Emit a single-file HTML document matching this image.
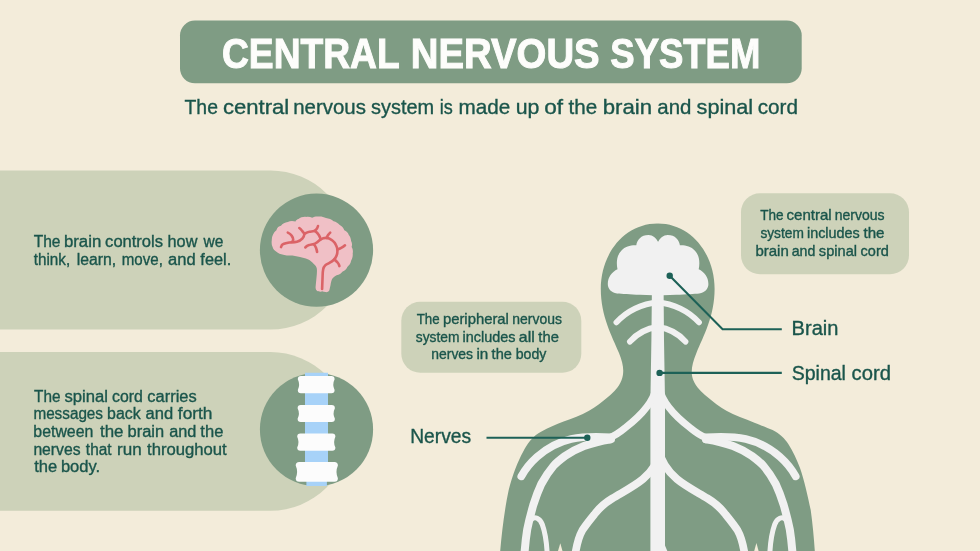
<!DOCTYPE html>
<html><head><meta charset="utf-8">
<style>
html,body{margin:0;padding:0;background:#F3ECDA;}
body{width:980px;height:551px;overflow:hidden;}
svg{display:block;font-family:"Liberation Sans",sans-serif;}
.d{fill:#1A554B;stroke:#1A554B;stroke-width:.35px;}
svg{will-change:transform;}
</style></head><body>
<svg width="980" height="551" viewBox="0 0 980 551">
<rect width="980" height="551" fill="#F3ECDA"/>
<!-- title -->
<rect x="180" y="20.6" width="621.7" height="62.7" rx="15" fill="#7F9C84"/>
<!-- left panels -->
<path d="M0 170.4H270.5a79.6 79.6 0 0 1 0 159.2H0Z" fill="#CDD2B9"/>
<path d="M0 352.1H270.5a79.3 79.3 0 0 1 0 158.6H0Z" fill="#CDD2B9"/>
<circle cx="316.5" cy="250.2" r="56.6" fill="#7F9C84"/>
<circle cx="316.5" cy="429.5" r="56.6" fill="#7F9C84"/>
<!-- TA -->
<text class="t" x="222.01" y="68.0" font-size="41.6" font-weight="bold" fill="#FDFDFB" stroke="#FDFDFB" stroke-width="1" textLength="177.70" lengthAdjust="spacingAndGlyphs">CENTRAL</text>
<text class="t" x="410.81" y="68.0" font-size="41.6" font-weight="bold" fill="#FDFDFB" stroke="#FDFDFB" stroke-width="1" textLength="188.82" lengthAdjust="spacingAndGlyphs">NERVOUS</text>
<text class="t" x="610.31" y="68.0" font-size="41.6" font-weight="bold" fill="#FDFDFB" stroke="#FDFDFB" stroke-width="1" textLength="150.04" lengthAdjust="spacingAndGlyphs">SYSTEM</text>
<text class="t d" x="184.51" y="113.8" font-size="20.6" textLength="33.42" lengthAdjust="spacingAndGlyphs">The</text>
<text class="t d" x="222.92" y="113.8" font-size="20.6" textLength="66.36" lengthAdjust="spacingAndGlyphs">central</text>
<text class="t d" x="293.17" y="113.8" font-size="20.6" textLength="72.70" lengthAdjust="spacingAndGlyphs">nervous</text>
<text class="t d" x="371.10" y="113.8" font-size="20.6" textLength="63.13" lengthAdjust="spacingAndGlyphs">system</text>
<text class="t d" x="439.63" y="113.8" font-size="20.6" textLength="13.05" lengthAdjust="spacingAndGlyphs">is</text>
<text class="t d" x="458.56" y="113.8" font-size="20.6" textLength="51.71" lengthAdjust="spacingAndGlyphs">made</text>
<text class="t d" x="515.72" y="113.8" font-size="20.6" textLength="23.69" lengthAdjust="spacingAndGlyphs">up</text>
<text class="t d" x="544.29" y="113.8" font-size="20.6" textLength="18.88" lengthAdjust="spacingAndGlyphs">of</text>
<text class="t d" x="568.49" y="113.8" font-size="20.6" textLength="28.64" lengthAdjust="spacingAndGlyphs">the</text>
<text class="t d" x="602.76" y="113.8" font-size="20.6" textLength="49.36" lengthAdjust="spacingAndGlyphs">brain</text>
<text class="t d" x="657.28" y="113.8" font-size="20.6" textLength="34.12" lengthAdjust="spacingAndGlyphs">and</text>
<text class="t d" x="696.55" y="113.8" font-size="20.6" textLength="56.62" lengthAdjust="spacingAndGlyphs">spinal</text>
<text class="t d" x="757.67" y="113.8" font-size="20.6" textLength="40.28" lengthAdjust="spacingAndGlyphs">cord</text>
<text class="t d" x="33.69" y="247.4" font-size="16.0" textLength="26.86" lengthAdjust="spacingAndGlyphs">The</text>
<text class="t d" x="63.91" y="247.4" font-size="16.0" textLength="37.36" lengthAdjust="spacingAndGlyphs">brain</text>
<text class="t d" x="105.14" y="247.4" font-size="16.0" textLength="57.87" lengthAdjust="spacingAndGlyphs">controls</text>
<text class="t d" x="167.56" y="247.4" font-size="16.0" textLength="29.83" lengthAdjust="spacingAndGlyphs">how</text>
<text class="t d" x="203.50" y="247.4" font-size="16.0" textLength="19.85" lengthAdjust="spacingAndGlyphs">we</text>
<text class="t d" x="33.77" y="265.1" font-size="16.0" textLength="36.40" lengthAdjust="spacingAndGlyphs">think,</text>
<text class="t d" x="76.78" y="265.1" font-size="16.0" textLength="39.39" lengthAdjust="spacingAndGlyphs">learn,</text>
<text class="t d" x="121.72" y="265.1" font-size="16.0" textLength="41.11" lengthAdjust="spacingAndGlyphs">move,</text>
<text class="t d" x="168.04" y="265.1" font-size="16.0" textLength="27.59" lengthAdjust="spacingAndGlyphs">and</text>
<text class="t d" x="200.35" y="265.1" font-size="16.0" textLength="30.90" lengthAdjust="spacingAndGlyphs">feel.</text>
<text class="t d" x="34.09" y="401.5" font-size="16.0" textLength="26.45" lengthAdjust="spacingAndGlyphs">The</text>
<text class="t d" x="64.50" y="401.5" font-size="16.0" textLength="43.53" lengthAdjust="spacingAndGlyphs">spinal</text>
<text class="t d" x="111.97" y="401.5" font-size="16.0" textLength="30.77" lengthAdjust="spacingAndGlyphs">cord</text>
<text class="t d" x="147.34" y="401.5" font-size="16.0" textLength="49.34" lengthAdjust="spacingAndGlyphs">carries</text>
<text class="t d" x="33.41" y="419.2" font-size="16.0" textLength="69.59" lengthAdjust="spacingAndGlyphs">messages</text>
<text class="t d" x="107.07" y="419.2" font-size="16.0" textLength="33.57" lengthAdjust="spacingAndGlyphs">back</text>
<text class="t d" x="145.54" y="419.2" font-size="16.0" textLength="27.59" lengthAdjust="spacingAndGlyphs">and</text>
<text class="t d" x="177.84" y="419.2" font-size="16.0" textLength="34.60" lengthAdjust="spacingAndGlyphs">forth</text>
<text class="t d" x="33.37" y="436.9" font-size="16.0" textLength="59.98" lengthAdjust="spacingAndGlyphs">between</text>
<text class="t d" x="99.95" y="436.9" font-size="16.0" textLength="23.52" lengthAdjust="spacingAndGlyphs">the</text>
<text class="t d" x="127.63" y="436.9" font-size="16.0" textLength="36.51" lengthAdjust="spacingAndGlyphs">brain</text>
<text class="t d" x="169.15" y="436.9" font-size="16.0" textLength="27.17" lengthAdjust="spacingAndGlyphs">and</text>
<text class="t d" x="200.35" y="436.9" font-size="16.0" textLength="23.00" lengthAdjust="spacingAndGlyphs">the</text>
<text class="t d" x="33.38" y="454.6" font-size="16.0" textLength="47.20" lengthAdjust="spacingAndGlyphs">nerves</text>
<text class="t d" x="85.87" y="454.6" font-size="16.0" textLength="25.65" lengthAdjust="spacingAndGlyphs">that</text>
<text class="t d" x="117.09" y="454.6" font-size="16.0" textLength="24.62" lengthAdjust="spacingAndGlyphs">run</text>
<text class="t d" x="147.05" y="454.6" font-size="16.0" textLength="79.66" lengthAdjust="spacingAndGlyphs">throughout</text>
<text class="t d" x="34.15" y="472.3" font-size="16.0" textLength="23.00" lengthAdjust="spacingAndGlyphs">the</text>
<text class="t d" x="60.93" y="472.3" font-size="16.0" textLength="39.20" lengthAdjust="spacingAndGlyphs">body.</text>
<!-- /TA -->
<!-- spine icon -->
<path d="M305 372.8H328V478H326.9V485.9H306.4V478H305Z" fill="#A7D2F8"/>
<g fill="#FCFCFC">
<path d="M301 376.1H331.4Q334.6 376.1 334.6 379.3Q332 384.7 334.6 390.1Q334.6 393.3 331.4 393.3H301Q297.8 393.3 297.8 390.1Q300.4 384.7 297.8 379.3Q297.8 376.1 301 376.1Z"/>
<path d="M300.8 405.1H331.7Q334.9 405.1 334.9 408.3Q332.3 413.55 334.9 418.8Q334.9 422 331.7 422H300.8Q297.6 422 297.6 418.8Q300.2 413.55 297.6 408.3Q297.6 405.1 300.8 405.1Z"/>
<path d="M300.4 433.6H332.2Q335.4 433.6 335.4 436.8Q332.8 442.2 335.4 447.6Q335.4 450.8 332.2 450.8H300.4Q297.2 450.8 297.2 447.6Q299.8 442.2 297.2 436.8Q297.2 433.6 300.4 433.6Z"/>
<path d="M299.2 462.1H334.4Q337.9 462.1 337.9 465.6Q335.1 471.95 337.9 478.3Q337.9 481.8 334.4 481.8H299.2Q295.7 481.8 295.7 478.3Q298.5 471.95 295.7 465.6Q295.7 462.1 299.2 462.1Z"/>
</g>
<!-- brain icon -->
<path fill="#F0C0C6" d="M271.8 240.2C271.6 236.5 273.5 232.5 276.4 230.3C277 227.5 279 226 281 225.7C282.5 223.5 285 222.2 287.8 221.9C290 220.8 293 220.8 295.5 221.5C296 220 297.2 219.3 298.5 218.9C300.5 217.3 303.5 216.6 306.1 216.9C308.3 216.5 310.5 216.9 312.2 217.8C314 216.7 316.3 216.4 318.3 216.6C321 216.3 323.8 217 326 218.1C328.8 218.4 331.6 219.6 333.6 221.2C336 221.8 338.3 223.2 339.7 225C342 226 343.7 228 344.3 230.3C346.3 231.2 348 232.8 348.8 234.9C350.2 236.6 351 238.8 351.1 241C352.2 242.8 352.3 245.2 351.6 247.1C352.8 248.8 353.2 251.2 352.7 253.2C353 256 352.4 258.6 351.1 260.8C350.8 263.2 349.3 265.4 347.3 266.9C346.5 269 344.8 270.6 342.7 271.5C341.3 273.4 339 274.8 336.6 275.3C334.8 276.2 333 277.5 332.1 279.1C331.2 281 330.9 283.2 330.5 285.2L329.4 290C329 291.5 327.3 292.4 325.7 292.1C324.3 292 323.2 291.7 322.1 291.3C321.3 291.9 320.7 291.8 319.9 291.5C318.6 291.6 317.4 291.3 316.8 290.6C315.8 289.6 315.5 288.2 315.6 286.7L316.5 277.6C316.8 274.5 317.2 271.3 316.8 268.4C316.5 266.5 315.3 265 313.8 263.9C312 262 310 260.3 307.7 259.3C305.3 258.3 302.6 257.4 300 257C297.5 256.5 295 255.7 292.4 255.5C289.4 255.7 286.2 255.5 283.3 254.7C280.7 254.3 278.1 253.3 276.4 251.7C274.5 250.7 273.1 249 272.6 247.1C271.6 245 271.4 242.4 271.8 240.2Z"/>
<g fill="none" stroke="#DB6367" stroke-width="2.6" stroke-linecap="round" stroke-linejoin="round">
<path d="M281 247.1C281.5 245.3 282.3 244.3 283.3 244C285.3 243.1 287.4 242.8 289.4 242.5C292 242.3 294.6 242.3 297 241.7C299 241.2 301 240.2 302.3 238.7C303.3 237.5 304.3 235.5 304.4 233.8"/>
<path d="M287.8 232.6C289.3 233.2 290.7 234.3 291.6 235.6C292.5 236.8 293.3 238.2 293.2 239.5C293.2 240.3 292.8 241 292.4 241.7"/>
<path d="M299.3 228C300.5 228.8 301.5 229.9 302.3 231.1C303 232 303.8 233.2 304.6 233.7C306 233 307.5 232.2 309.2 231.8C310.7 231.4 312.3 231.5 313.8 231.1C315 230.7 316 230 316.5 229.1C317.2 228.2 317.7 227.1 318 226"/>
<path d="M314.5 231.1C315.8 231.5 316.8 232.4 317.6 233.4C318.5 234.5 319.4 235.8 319.9 237.2C320.3 238 320.5 238.8 320.6 239.5"/>
<path d="M305.4 247.4C306.2 246.4 307.2 245.7 308.4 245.3C309.9 244.7 311.5 244.6 313 244.3C314.4 244 315.7 243.4 316.8 242.5C318 241.5 319.2 240.3 320.6 239.5C322.2 238.5 324.1 237.9 326 237.9C328.2 237.9 330.4 238.8 332.1 240.2C333.7 241.4 335 243 335.9 244.8C336.8 246.4 337.3 248.3 337.4 250.1C337.5 252 337.3 253.8 336.6 255.5C336 257.2 334.9 258.8 333.6 260C332.3 261.3 330.6 262.2 329 263.1C327.7 263.8 326.2 264.4 325.2 265.4C324.2 266.4 323.5 267.8 323.2 269.2C322.7 271.5 322.7 273.8 322.6 276.1L322.1 289"/>
<path d="M313.8 244.3C314.8 245.3 315.5 246.5 316 247.8C316.5 249.2 316.9 250.6 317.1 252"/>
<path d="M326.7 237.9C327 236.8 327.5 235.8 328.2 234.9C328.8 234.1 329.5 233.3 330.2 232.6"/>
<path d="M337.4 249.4C338.7 249 340 248.5 341.2 247.8C342.6 247.1 343.9 246.3 345 245.3"/>
<path d="M334.4 259.6C335.5 260.4 336.5 261.3 337.4 262.3C338.3 263.4 339 264.7 339.4 266.1"/>
</g>
<!-- callouts -->
<rect x="741" y="193.3" width="168" height="81" rx="19" fill="#CDD2B9"/>
<rect x="401.3" y="301.7" width="180" height="71" rx="19" fill="#CDD2B9"/>
<!-- TB -->
<text class="t d" x="760.23" y="220.4" font-size="13.9" textLength="23.32" lengthAdjust="spacingAndGlyphs">The</text>
<text class="t d" x="786.50" y="220.4" font-size="13.9" textLength="45.20" lengthAdjust="spacingAndGlyphs">central</text>
<text class="t d" x="834.69" y="220.4" font-size="13.9" textLength="49.87" lengthAdjust="spacingAndGlyphs">nervous</text>
<text class="t d" x="760.39" y="237.9" font-size="13.9" textLength="43.46" lengthAdjust="spacingAndGlyphs">system</text>
<text class="t d" x="806.96" y="237.9" font-size="13.9" textLength="52.83" lengthAdjust="spacingAndGlyphs">includes</text>
<text class="t d" x="863.47" y="237.9" font-size="13.9" textLength="21.01" lengthAdjust="spacingAndGlyphs">the</text>
<text class="t d" x="755.43" y="255.5" font-size="13.9" textLength="33.33" lengthAdjust="spacingAndGlyphs">brain</text>
<text class="t d" x="791.73" y="255.5" font-size="13.9" textLength="23.64" lengthAdjust="spacingAndGlyphs">and</text>
<text class="t d" x="818.86" y="255.5" font-size="13.9" textLength="38.13" lengthAdjust="spacingAndGlyphs">spinal</text>
<text class="t d" x="860.62" y="255.5" font-size="13.9" textLength="28.23" lengthAdjust="spacingAndGlyphs">cord</text>
<text class="t d" x="416.73" y="324.3" font-size="13.9" textLength="22.91" lengthAdjust="spacingAndGlyphs">The</text>
<text class="t d" x="442.94" y="324.3" font-size="13.9" textLength="65.97" lengthAdjust="spacingAndGlyphs">peripheral</text>
<text class="t d" x="512.39" y="324.3" font-size="13.9" textLength="49.56" lengthAdjust="spacingAndGlyphs">nervous</text>
<text class="t d" x="415.79" y="341.7" font-size="13.9" textLength="43.67" lengthAdjust="spacingAndGlyphs">system</text>
<text class="t d" x="462.56" y="341.7" font-size="13.9" textLength="52.83" lengthAdjust="spacingAndGlyphs">includes</text>
<text class="t d" x="518.87" y="341.7" font-size="13.9" textLength="15.87" lengthAdjust="spacingAndGlyphs">all</text>
<text class="t d" x="538.38" y="341.7" font-size="13.9" textLength="20.49" lengthAdjust="spacingAndGlyphs">the</text>
<text class="t d" x="431.30" y="359.4" font-size="13.9" textLength="41.71" lengthAdjust="spacingAndGlyphs">nerves</text>
<text class="t d" x="476.41" y="359.4" font-size="13.9" textLength="11.83" lengthAdjust="spacingAndGlyphs">in</text>
<text class="t d" x="491.58" y="359.4" font-size="13.9" textLength="20.28" lengthAdjust="spacingAndGlyphs">the</text>
<text class="t d" x="515.68" y="359.4" font-size="13.9" textLength="30.70" lengthAdjust="spacingAndGlyphs">body</text>
<!-- /TB -->
<!-- body -->
<defs>
<path id="half" d="M657.7 223.5C624 223.5 600.8 254 600.8 289C600.8 316 612 336 619 353C623.5 364 624.5 372 621.6 380C619 387 613.5 392.3 608.9 396.2C602.5 401.6 595.5 407 589 410.8C581 415.3 572 418.5 563.6 421.6C556 424.5 548 427.8 541.5 431.5C533 435.5 527 444 523 452C518 461 512.5 475 508.7 490C505 507 502 530 500.2 551H657.7Z"/>
<path id="halfR" d="M657.7 223.5C691.4 223.5 714.6 254 714.6 289C714.6 316 703.4 336 696.4 353C691.9 364 690.3 372 693.2 380C696 387 701.9 392.3 706.5 396.2C712.9 401.6 719.9 407 726.4 410.8C734.4 415.3 745 419 754.4 422.7C762 425.7 767 427.5 772.6 430C780 433.5 785 439 788.3 444C793 451.5 797 460 800 468C804 479 808 497 810.7 510C812.5 523 814 538 814.8 551H657.7Z"/>
<g id="nerveL" fill="none" stroke="#F1F1F1" stroke-linecap="round">
<path d="M658 302.3C642 303.5 626.5 311 616.4 322.4" stroke-width="5.8"/>
<path d="M658 327C646 328.5 636.5 334 629.9 341.7" stroke-width="5.8"/>
<path d="M656 388C653 404 638 418 625 428C619 433 614 436 609 438" stroke-width="7"/>
</g>
<g id="b2L" fill="none" stroke="#F1F1F1" stroke-linecap="round">
<path d="M660.5 451C658.5 463 650.5 472.5 643 479C634 486.5 622 492.5 612.4 498.4C603 504 597 511 594.3 514.5C589 521 585 526 582.2 530.6C578.5 537 576.5 545 574.8 557" stroke-width="7.7"/>
</g>
<g id="armL" fill="none" stroke="#F1F1F1" stroke-linecap="round">
<path d="M611 437.3C596 436.3 583 436.5 571.2 439C558 442 546 449 537 456.8C530 463 525 469.5 521.3 476.3" stroke-width="7.7"/>
<path d="M611 439.2C600 441 592 443 584 446C577 448.7 570 452.5 565 456C559 460.5 556 463 553.4 466C547 473.5 544 479 541.3 484C538 491 535.5 498 533.3 505C531 513 528.5 523 527.2 529.5C526 537 525 546 524.3 556" stroke-width="8"/>
<path d="M531 520C534.5 515.5 540 518.5 542.3 524.5C545 532 546.8 543 547.3 556" stroke-width="5"/>
</g>
</defs>
<g fill="#7F9C84"><use href="#half"/><use href="#halfR"/></g>
<rect x="656" y="224" width="4" height="327" fill="#7F9C84"/>
<!-- brain -->
<g fill="#F1F1F1">
<path id="hb" d="M659.5 295.4L640 294.8C630 294.4 622 294 617 293.5C611 292.7 607.8 288.5 607.8 284C607.8 277 612 272 617.5 269.3C616 262 617 255 621.5 250.5C625 246.5 631 245 636.3 245.3C637 240 641 235 648.5 235C653 235 656 238 657.9 241.7H659.5Z"/>
<use href="#hb" transform="translate(1316.2 0) scale(-1 1)"/>
<!-- spinal cord -->
<path d="M651.9 290H663.6L664 340L665 400V551H650.4V400L651.4 340Z"/>
<circle cx="609.7" cy="440" r="3.3"/><circle cx="705.7" cy="440" r="3.3"/>
</g>
<use href="#nerveL"/><use href="#nerveL" transform="translate(1315.4 0) scale(-1 1)"/>
<use href="#b2L"/><use href="#b2L" transform="translate(1319.9 0) scale(-1 1)"/>
<use href="#armL"/><use href="#armL" transform="translate(1317 0) scale(-1 1)"/>
<path d="M665 545.5L667.3 551H665Z" fill="#F1F1F1"/>
<path d="M558 551L560.3 543.3L562.5 551Z" fill="#F3ECDA"/><path d="M754.2 551L756.4 543L758.6 551Z" fill="#F3ECDA"/>
<!-- labels -->
<!-- TC -->
<text class="t d" x="791.59" y="334.9" font-size="19.9" textLength="46.91" lengthAdjust="spacingAndGlyphs">Brain</text>
<text class="t d" x="791.72" y="379.9" font-size="19.9" textLength="54.24" lengthAdjust="spacingAndGlyphs">Spinal</text>
<text class="t d" x="851.59" y="379.9" font-size="19.9" textLength="39.44" lengthAdjust="spacingAndGlyphs">cord</text>
<text class="t d" x="410.26" y="442.7" font-size="19.9" textLength="60.86" lengthAdjust="spacingAndGlyphs">Nerves</text>
<!-- /TC -->
<!-- lines -->
<g stroke="#1D6157" stroke-width="2.1" fill="none">
<path d="M669.7 275.7L722.6 329.3H781.8"/>
<path d="M659.5 372.9H781.8"/>
<path d="M486.5 437.7H587"/>
</g>
<g fill="#1D6157">
<circle cx="669.7" cy="275.7" r="3.2"/>
<circle cx="659.6" cy="372.9" r="3.2"/>
<circle cx="587.3" cy="437.7" r="3.2"/>
</g>
</svg>
</body></html>
